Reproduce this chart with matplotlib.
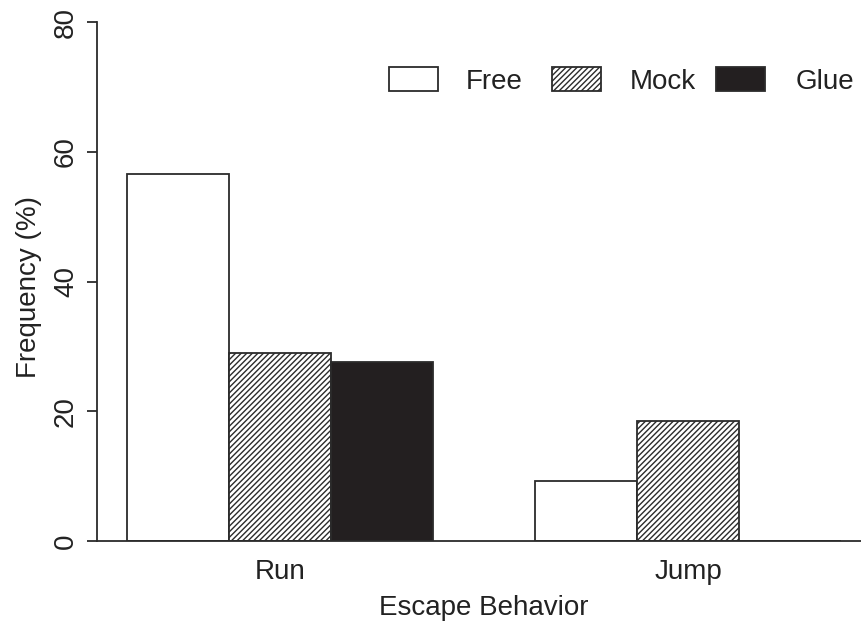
import matplotlib
matplotlib.use("Agg")
import matplotlib.pyplot as plt
from matplotlib.patches import Rectangle

categories = ["Run", "Jump"]
groups = ["Free", "Mock", "Glue"]
free = [56.5, 9.2]
mock = [29.0, 18.5]
glue = [27.6, 0.0]
yticks = [0, 20, 40, 60, 80]

plt.rcParams['font.family'] = ['Liberation Sans', 'DejaVu Sans']
plt.rcParams['hatch.linewidth'] = 1.0

W, H = 862, 621
fig = plt.figure(figsize=(W / 100, H / 100), dpi=100)
ax = fig.add_axes([97 / W, (H - 541) / H, 1 - 97 / W, 519 / H])
ax.set_xlim(1 - 30 / 102, 8 + 21 / 102)
ax.set_ylim(0, 80)

ec = '#2b2b2b'
txt = '#222222'
series = [free, mock, glue]
fills = ['white', 'white', '#231f20']
hatches = [None, '//////', None]
for i, (vals, fc, h) in enumerate(zip(series, fills, hatches)):
    x = [1 + i + 4 * g for g in range(len(categories))]
    ax.bar(x, vals, width=1, align='edge', color=fc, edgecolor=ec,
           hatch=h, linewidth=1.3)

ax.axhline(0, color=ec, lw=1.3, clip_on=False)

for s in ['top', 'right', 'bottom']:
    ax.spines[s].set_visible(False)
ax.spines['left'].set_color(ec)
ax.spines['left'].set_linewidth(1.3)

ax.set_yticks(yticks)
ax.set_yticklabels([str(v) for v in yticks])
ax.tick_params(axis='y', length=7, width=1.3, color=ec, pad=6,
               labelsize=20, labelcolor=txt)
for lbl in ax.get_yticklabels():
    lbl.set_rotation(90)
    lbl.set_va('center')

centers = [2.5 + 4 * g for g in range(len(categories))]
ax.set_xticks(centers)
ax.set_xticklabels(categories)
ax.tick_params(axis='x', length=0, pad=13, labelsize=20, labelcolor=txt)

fig.text(484 / W, (H - 615) / H, "Escape Behavior", ha='center',
         va='baseline', fontsize=20, color=txt)
fig.text(29 / W, (H - 287.5) / H, "Frequency (%)", ha='center',
         va='center', rotation=90, fontsize=20, color=txt)

# legend
box_x = [389, 552, 716]
text_x = [466, 630, 796]
for bx, tx, name, fc, h in zip(box_x, text_x, groups, fills, hatches):
    r = Rectangle((bx / W, (H - 91) / H), 49 / W, 24 / H,
                  transform=fig.transFigure, facecolor=fc, edgecolor=ec,
                  hatch=h, linewidth=1.3)
    fig.patches.append(r)
    fig.text(tx / W, (H - 89) / H, name, ha='left', va='baseline',
             fontsize=20, color=txt)

fig.savefig("out.png", dpi=100)
